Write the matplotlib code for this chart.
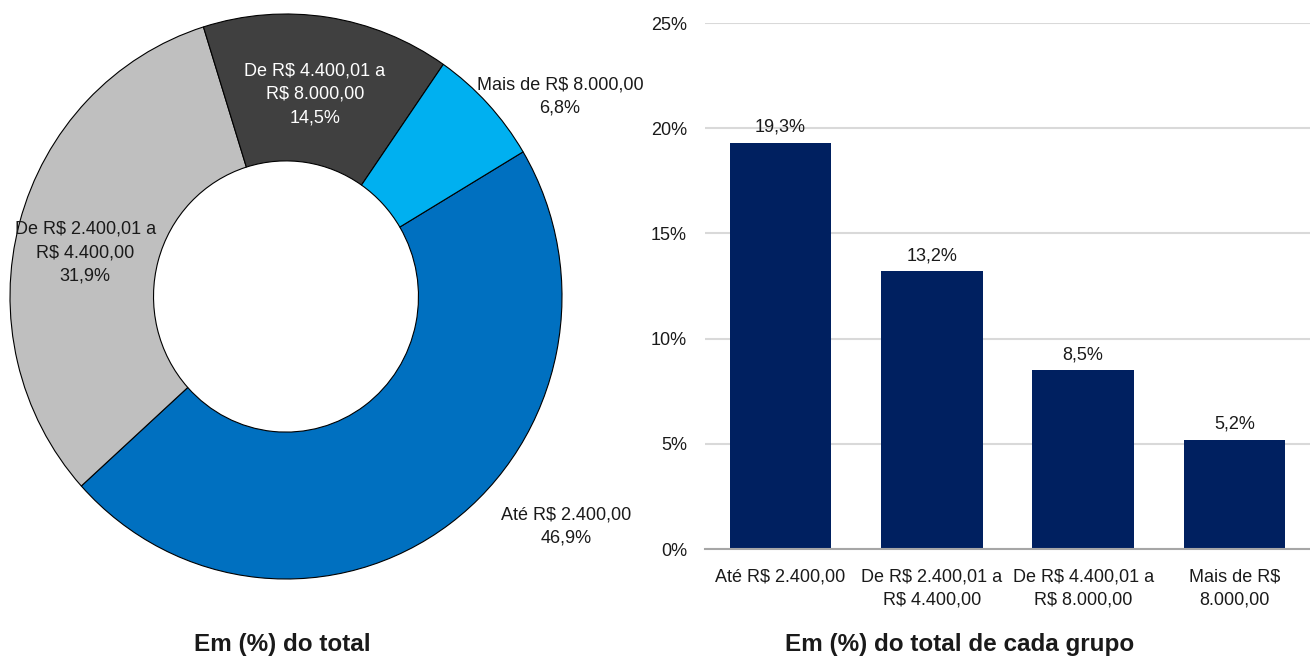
import matplotlib
matplotlib.use("Agg")
import matplotlib.pyplot as plt
from matplotlib import font_manager

# ---- data ----
donut_labels = ["Até R$ 2.400,00", "De R$ 2.400,01 a\nR$ 4.400,00",
                "De R$ 4.400,01 a\nR$ 8.000,00", "Mais de R$ 8.000,00"]
donut_values = [46.9, 31.9, 14.5, 6.8]
donut_colors = ["#0070C0", "#BFBFBF", "#404040", "#00B0F0"]

bar_categories = ["Até R$ 2.400,00", "De R$ 2.400,01 a\nR$ 4.400,00",
                  "De R$ 4.400,01 a\nR$ 8.000,00", "Mais de R$\n8.000,00"]
bar_values = [19.3, 13.2, 8.5, 5.2]
y_ticks = [0, 5, 10, 15, 20, 25]

title_left = "Em (%) do total"
title_right = "Em (%) do total de cada grupo"

# ---- font ----
avail = {f.name for f in font_manager.fontManager.ttflist}
fam = [f for f in ["Liberation Sans Narrow", "Arial Narrow", "Liberation Sans", "DejaVu Sans"] if f in avail]
plt.rcParams["font.family"] = fam

W, H = 1310, 662
fig = plt.figure(figsize=(W / 100, H / 100), dpi=100)

def fmt(v):
    return f"{v:.1f}".replace(".", ",") + "%"

# ---- donut ----
x0, x1, y0, y1 = 10, 562, 14, 579
axd = fig.add_axes([x0 / W, 1 - y1 / H, (x1 - x0) / W, (y1 - y0) / H])
wedges, _ = axd.pie(donut_values, colors=donut_colors, startangle=30.8, counterclock=False,
                    radius=1.0, wedgeprops=dict(width=0.52, edgecolor="black", linewidth=0.8))
axd.set_aspect("auto")
axd.set_xlim(-1, 1)
axd.set_ylim(-1, 1)
axd.axis("off")

label_pos = [(1.014, -0.814), (-0.728, 0.155), (0.105, 0.716), (0.993, 0.708)]
label_col = ["#1a1a1a", "#1a1a1a", "white", "#1a1a1a"]
for lab, val, (lx, ly), c in zip(donut_labels, donut_values, label_pos, label_col):
    axd.text(lx, ly, lab + "\n" + fmt(val), ha="center", va="center", fontsize=13,
             color=c, linespacing=1.5, clip_on=False)

# ---- bars ----
axb = fig.add_axes([705 / W, 1 - 549 / H, (1310 - 705) / W, (549 - 23) / H])
x = range(len(bar_categories))
bars = axb.bar(x, bar_values, width=0.67, color="#002060", zorder=3)
axb.set_xlim(-0.5, len(bar_categories) - 0.5)
axb.set_ylim(0, 25)
axb.set_yticks(y_ticks)
axb.set_yticklabels([f"{t}%" for t in y_ticks])
axb.set_xticks(list(x))
axb.set_xticklabels(bar_categories, linespacing=1.5)
axb.tick_params(axis="both", length=0, labelsize=13, colors="#1a1a1a")
axb.tick_params(axis="y", pad=13)
axb.tick_params(axis="x", pad=14)
axb.yaxis.grid(True, color="#D9D9D9", linewidth=1.5, zorder=0)
axb.set_axisbelow(True)
for s in ["left", "right", "top"]:
    axb.spines[s].set_visible(False)
axb.spines["bottom"].set_color("#A6A6A6")
axb.spines["bottom"].set_linewidth(1.5)
axb.spines["bottom"].set_zorder(4)
axb.bar_label(bars, labels=[fmt(v) for v in bar_values],
              padding=5, fontsize=13, color="#1a1a1a")

# ---- titles ----
fig.text(282 / W, 1 - 645 / H, title_left, ha="center", va="center",
         fontsize=17.5, fontweight="bold", color="#1a1a1a")
fig.text(960 / W, 1 - 645 / H, title_right, ha="center", va="center",
         fontsize=17.5, fontweight="bold", color="#1a1a1a")

fig.savefig("out.png", dpi=100)
